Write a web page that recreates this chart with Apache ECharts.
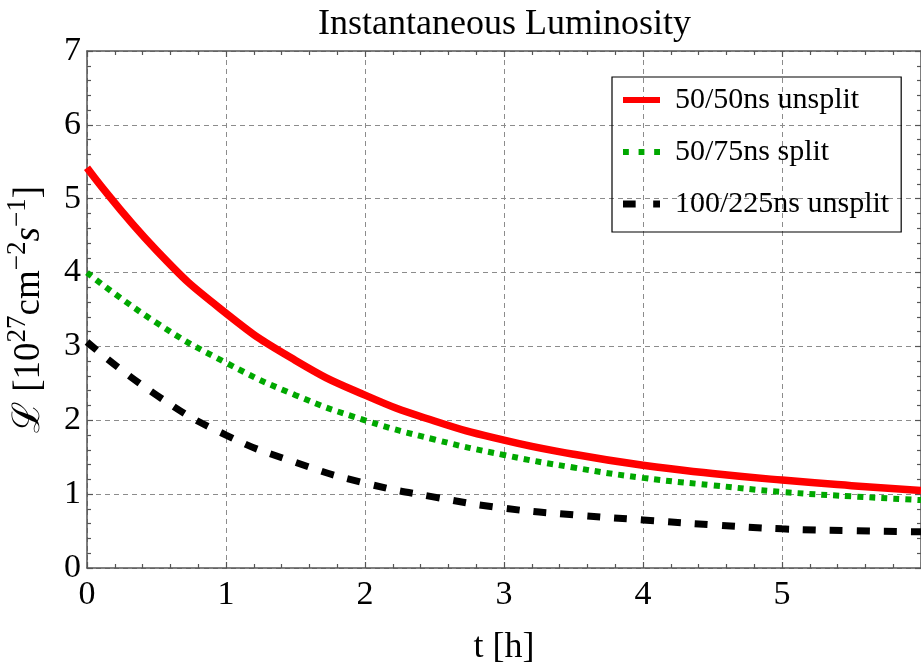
<!DOCTYPE html>
<html>
<head>
<meta charset="utf-8">
<script src="https://cdn.jsdelivr.net/npm/echarts@6/dist/echarts.min.js"></script>
<style>html,body{margin:0;padding:0;background:#fff}#c{width:921px;height:663px}</style>
</head>
<body>
<div id="c"></div>
<script>
var titleText = 'Instantaneous Luminosity';
var xTicks = [0, 1, 2, 3, 4, 5];
var yTicks = [0, 1, 2, 3, 4, 5, 6, 7];
var tValues = [0, 0.5, 1, 1.5, 2, 2.5, 3, 3.5, 4, 4.5, 5, 5.5, 6];
var seriesNames = ['50/50ns unsplit', '50/75ns split', '100/225ns unsplit'];
var redValues   = [5.42, 4.30, 3.45, 2.81, 2.34, 1.99, 1.73, 1.54, 1.39, 1.28, 1.19, 1.115, 1.05];
var greenValues = [4.00, 3.32, 2.78, 2.34, 2.00, 1.74, 1.53, 1.36, 1.22, 1.12, 1.03, 0.97, 0.92];
var blackValues = [3.06, 2.34, 1.80, 1.43, 1.15, 0.96, 0.81, 0.72, 0.65, 0.585, 0.53, 0.505, 0.49];

function pairs(vals) { return tValues.map(function (t, i) { return [t, vals[i]]; }); }

var FONT = '"Liberation Serif", "Times New Roman", serif';
var axisColor = '#555555';
var chart = echarts.init(document.getElementById('c'), null, {renderer: 'canvas'});

var baseX = {
  type: 'value', min: 0, max: 6, interval: 1,
  axisLine: {show: true, onZero: false, lineStyle: {color: axisColor, width: 1.5}},
  axisTick: {show: true, inside: true, length: 6, lineStyle: {color: axisColor, width: 1.2}},
  minorTick: {show: true, splitNumber: 5, length: 4, lineStyle: {color: axisColor, width: 1.2}},
  splitLine: {show: false}
};
var baseY = {
  type: 'value', min: 0, max: 7, interval: 1,
  axisLine: {show: true, onZero: false, lineStyle: {color: axisColor, width: 1.5}},
  axisTick: {show: true, inside: true, length: 6, lineStyle: {color: axisColor, width: 1.2}},
  minorTick: {show: true, splitNumber: 5, length: 4, lineStyle: {color: axisColor, width: 1.2}},
  splitLine: {show: false}
};

var legendIcons = [
  'path://M0,0H38V6H0Z',
  'path://M0,0H6V6H0Z M16,0H22V6H16Z M32,0H38V6H32Z',
  'path://M0,0H13V7H0Z M31,0H38V7H31Z'
];

var option = {
  animation: false,
  backgroundColor: '#ffffff',
  title: {
    text: titleText, left: 313, top: 2,
    textStyle: {fontFamily: FONT, fontSize: 36, fontWeight: 'normal', color: '#000'}
  },
  grid: {left: 87, right: 0, top: 51, bottom: 95, containLabel: false, outerBoundsMode: 'none'},
  legend: {
    orient: 'vertical', left: 612, top: 77,
    padding: [8, 12, 13, 11],
    itemWidth: 37, itemHeight: 30, itemGap: 22,
    borderColor: '#000', borderWidth: 1.2, backgroundColor: 'transparent',
    textStyle: {fontFamily: FONT, fontSize: 30, color: '#000', padding: [0, 0, 0, 10]},
    data: seriesNames.map(function (n, i) { return {name: n, icon: legendIcons[i]}; })
  },
  xAxis: [
    Object.assign({}, baseX, {
      position: 'bottom',
      name: 't [h]', nameLocation: 'middle', nameGap: 62,
      nameTextStyle: {fontFamily: FONT, fontSize: 36, color: '#000'},
      axisLabel: {show: true, margin: 10, fontFamily: FONT, fontSize: 34, color: '#000',
        formatter: function (v) { return xTicks.indexOf(v) >= 0 ? String(v) : ''; }},
      splitLine: {show: true, lineStyle: {color: '#8c8c8c', width: 1, type: [5, 4]}}
    }),
    Object.assign({}, baseX, {position: 'top', axisLabel: {show: false}})
  ],
  yAxis: [
    Object.assign({}, baseY, {
      position: 'left',
      name: '{l|ℒ} [10{sup|27}cm{sup|−2}{it|s}{sup|−1}]',
      nameLocation: 'middle', nameGap: 32, nameRotate: 90,
      nameTextStyle: {
        fontFamily: FONT, fontSize: 37, color: '#000',
        rich: {
          l: {fontFamily: '"DejaVu Serif", serif', fontSize: 38, color: '#000'},
          sup: {fontFamily: FONT, fontSize: 27, color: '#000', padding: [0, 0, 24, 0]},
          it: {fontFamily: FONT, fontSize: 37, fontStyle: 'italic', color: '#000'}
        }
      },
      axisLabel: {show: true, margin: 6, fontFamily: FONT, fontSize: 34, color: '#000',
        formatter: function (v) { return yTicks.indexOf(v) >= 0 ? String(v) : ''; }},
      splitLine: {show: true, lineStyle: {color: '#8c8c8c', width: 1, type: [5, 4]}}
    }),
    Object.assign({}, baseY, {position: 'right', axisLabel: {show: false}})
  ],
  series: [
    {name: seriesNames[0], type: 'line', data: pairs(redValues), smooth: 0.5, symbol: 'none',
      lineStyle: {color: '#ff0000', width: 7.5, type: 'solid'}, itemStyle: {color: '#ff0000'}, z: 5},
    {name: seriesNames[1], type: 'line', data: pairs(greenValues), smooth: 0.5, symbol: 'none',
      lineStyle: {color: '#00a800', width: 6, type: [6, 6]}, itemStyle: {color: '#00a800'}, z: 4},
    {name: seriesNames[2], type: 'line', data: pairs(blackValues), smooth: 0.5, symbol: 'none',
      lineStyle: {color: '#000000', width: 7, type: [13, 14]}, itemStyle: {color: '#000000'}, z: 3}
  ]
};
chart.setOption(option);
</script>
</body>
</html>
